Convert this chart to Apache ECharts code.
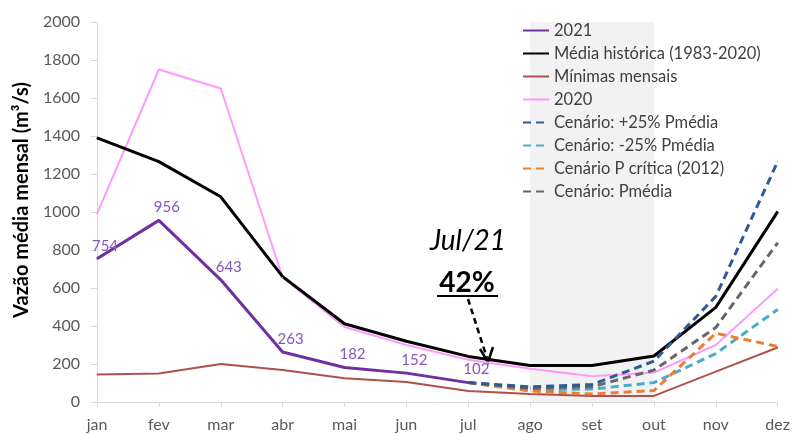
<!DOCTYPE html>
<html><head><meta charset="utf-8">
<script src="https://cdn.jsdelivr.net/npm/echarts@6/dist/echarts.min.js"></script>
<style>html,body{margin:0;padding:0;background:#fff}#c{width:793px;height:434px}</style>
</head><body><div id="c"></div>
<script>
var months = ['jan','fev','mar','abr','mai','jun','jul','ago','set','out','nov','dez'];
var yTicks = [0,200,400,600,800,1000,1200,1400,1600,1800,2000];
var s2021 = [754, 956, 643, 263, 182, 152, 102, null, null, null, null, null];
var sMedia = [1390, 1265, 1080, 660, 412, 320, 240, 192, 192, 242, 498, 1002];
var sMin = [145, 150, 200, 168, 125, 105, 58, 42, 32, 32, 160, 287];
var s2020 = [990, 1750, 1650, 655, 395, 300, 222, 175, 135, 155, 300, 596];
var sMais25 = [null, null, null, null, null, null, 102, 80, 92, 215, 556, 1265];
var sMenos25 = [null, null, null, null, null, null, 102, 65, 68, 102, 255, 487];
var sCritica = [null, null, null, null, null, null, 102, 58, 42, 60, 362, 292];
var sPmedia = [null, null, null, null, null, null, 102, 72, 80, 168, 392, 838];

var font = 'Lato, "Open Sans", sans-serif';
var chart = echarts.init(document.getElementById('c'));
function line(name, data, color, width, dashed, extra) {
  var s = {
    name: name, type: 'line', data: data, symbol: 'circle', symbolSize: 1, showSymbol: true, smooth: false,
    lineStyle: {color: color, width: width, type: dashed ? [8, 5] : 'solid'},
    itemStyle: {color: color}, emphasis: {disabled: true}, connectNulls: false
  };
  if (extra) for (var k in extra) s[k] = extra[k];
  return s;
}
chart.setOption({
  animation: false,
  textStyle: {fontFamily: font},
  grid: {left: 97, right: 15, top: 22, bottom: 32},
  legend: {
    orient: 'vertical', left: 517, top: 17, itemWidth: 26, itemHeight: 14, itemGap: 6,
    itemStyle: {opacity: 0},
    textStyle: {fontFamily: font, fontSize: 16.5, lineHeight: 16, color: '#404040'},
    data: ['2021','Média histórica (1983-2020)','Mínimas mensais','2020','Cenário: +25% Pmédia','Cenário: -25% Pmédia','Cenário P crítica (2012)','Cenário: Pmédia']
  },
  xAxis: {
    type: 'category', data: months, boundaryGap: false,
    axisLine: {lineStyle: {color: '#d9d9d9', width: 1}},
    axisTick: {show: true, length: 5, lineStyle: {color: '#d9d9d9'}},
    axisLabel: {color: '#595959', fontSize: 16, margin: 15, fontFamily: font},
    splitLine: {show: false}
  },
  yAxis: {
    type: 'value', min: yTicks[0], max: yTicks[yTicks.length - 1], interval: yTicks[1] - yTicks[0],
    name: 'Vazão média mensal (m³/s)', nameLocation: 'middle', nameGap: 64,
    nameTextStyle: {fontSize: 20, fontWeight: 'bold', color: '#000', fontFamily: font, padding: [0, 0, 0, 24]},
    axisLine: {show: true, lineStyle: {color: '#d9d9d9'}},
    axisTick: {show: true, length: 6, lineStyle: {color: '#d9d9d9'}},
    axisLabel: {color: '#595959', fontSize: 16, margin: 17, fontFamily: font, formatter: function (v) { return String(v); }},
    splitLine: {show: false}
  },
  series: [
    line('Mínimas mensais', sMin, '#B0504B', 2, false, {
      markArea: {silent: true, itemStyle: {color: '#f2f2f2'}, data: [[{xAxis: 'ago'}, {xAxis: 'out'}]]}
    }),
    line('2020', s2020, '#FF99FF', 2, false),
    line('Média histórica (1983-2020)', sMedia, '#000000', 3, false),
    line('Cenário: -25% Pmédia', sMenos25, '#4BACC6', 3, true),
    line('Cenário P crítica (2012)', sCritica, '#ED7D31', 3, true),
    line('Cenário: Pmédia', sPmedia, '#666666', 3, true),
    line('Cenário: +25% Pmédia', sMais25, '#2E5A96', 3, true),
    line('2021', s2021, '#7030A0', 3, false, {
      label: {show: true, position: 'top', distance: 5, offset: [8, 0], color: '#8855C0', fontSize: 15, fontFamily: font}
    })
  ],
  graphic: [
    {type: 'text', x: 468, y: 241, style: {text: 'Jul/21', fontSize: 28, fontStyle: 'italic', fill: '#000', fontFamily: font, align: 'center', verticalAlign: 'middle'}},
    {type: 'text', x: 467, y: 283, style: {text: '42%', fontSize: 28, fontWeight: 'bold', fill: '#000', fontFamily: font, align: 'center', verticalAlign: 'middle'}},
    {type: 'line', shape: {x1: 437, y1: 296, x2: 498, y2: 296}, style: {stroke: '#000', lineWidth: 2}},
    {type: 'line', shape: {x1: 468, y1: 299, x2: 487, y2: 358}, style: {stroke: '#000', lineWidth: 2.5, lineDash: [6, 4]}},
    {type: 'polyline', shape: {points: [[480, 349], [488, 362], [493, 347]]}, style: {stroke: '#000', lineWidth: 2.5, fill: null}}
  ]
});
</script></body></html>
